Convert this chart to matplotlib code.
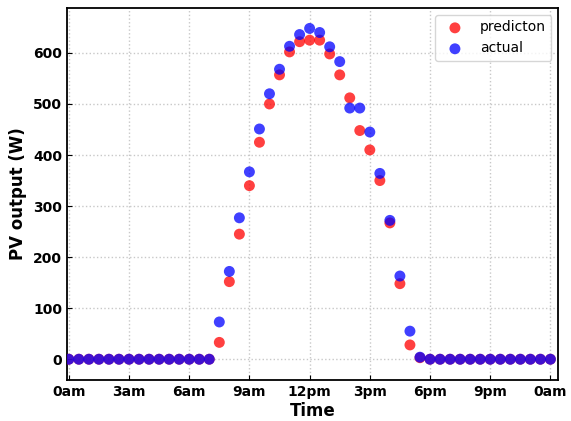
import numpy as np
import matplotlib.pyplot as plt

# half-hour steps over one day
hours = np.arange(0, 24.5, 0.5)

prediction = [0] * 15 + [33, 152, 245, 340, 425, 500, 557, 602, 622, 625, 625, 598, 557,
                         512, 448, 410, 350, 267, 148, 28, 3] + [0] * 13
actual = [0] * 15 + [73, 172, 277, 367, 451, 520, 568, 613, 636, 648, 640, 612, 583,
                     492, 492, 445, 364, 272, 163, 55, 4] + [0] * 13

tick_pos = [0, 3, 6, 9, 12, 15, 18, 21, 24]
tick_labels = ['0am', '3am', '6am', '9am', '12pm', '3pm', '6pm', '9pm', '0am']

fig, ax = plt.subplots(figsize=(5.71, 4.21), dpi=100)

ax.scatter(hours, prediction, s=62, color='red', alpha=0.75, edgecolors='none',
           label='predicton', zorder=3)
ax.scatter(hours, actual, s=62, color='blue', alpha=0.75, edgecolors='none',
           label='actual', zorder=3)

ax.set_xlim(-0.1, 24.4)
ax.set_ylim(-41, 688)
ax.set_xticks(tick_pos)
ax.set_xticklabels(tick_labels)
ax.set_yticks([0, 100, 200, 300, 400, 500, 600])
ax.tick_params(direction='in', labelsize=10)
for lab in ax.get_xticklabels() + ax.get_yticklabels():
    lab.set_fontweight('bold')

ax.set_xlabel('Time', fontsize=12, fontweight='bold', labelpad=2)
ax.set_ylabel('PV output (W)', fontsize=12, fontweight='bold')
ax.grid(linestyle=':', color='#c8c8c8', linewidth=1)
for sp in ax.spines.values():
    sp.set_linewidth(1.3)

ax.legend(loc='upper right', fontsize=10)

plt.subplots_adjust(left=0.117, right=0.978, top=0.981, bottom=0.097)
plt.savefig('out.png')
